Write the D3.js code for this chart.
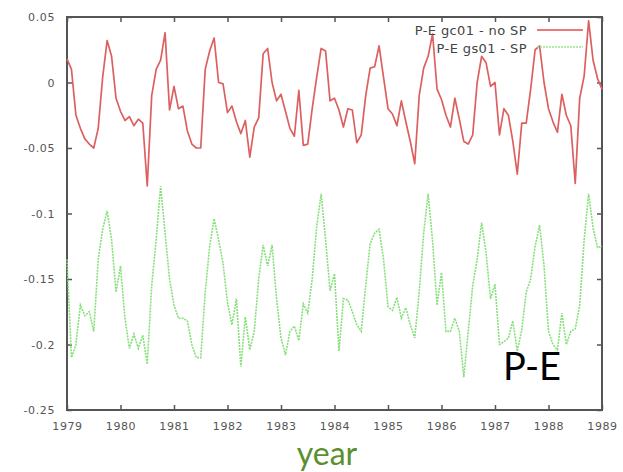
<!DOCTYPE html>
<html>
<head>
<meta charset="utf-8"/>
<script src="https://cdn.jsdelivr.net/npm/d3@7"></script>
<title>P-E</title>
<style>
body { margin: 0; background: #fff; }
svg { display: block; }
</style>
</head>
<body>
<script>
// monthly values, Jan 1979 .. Jan 1989
var startYear = 1979;
var noSP = [0.018,0.01,-0.025,-0.035,-0.043,-0.047,-0.05,-0.035,0.004,0.032,
  0.02,-0.012,-0.022,-0.029,-0.026,-0.033,-0.028,-0.031,-0.079,-0.01,
  0.01,0.017,0.038,-0.021,-0.003,-0.02,-0.018,-0.037,-0.047,-0.05,
  -0.05,0.01,0.024,0.034,0,-0.001,-0.023,-0.018,-0.03,-0.039,
  -0.029,-0.057,-0.034,-0.027,0.022,0.026,0,-0.014,-0.009,-0.022,
  -0.035,-0.041,-0.006,-0.048,-0.047,-0.02,0.004,0.026,0.024,-0.014,
  -0.012,-0.021,-0.034,-0.02,-0.021,-0.046,-0.04,-0.01,0.011,0.012,
  0.028,0.004,-0.02,-0.024,-0.033,-0.014,-0.03,-0.045,-0.062,-0.01,
  0.011,0.02,0.037,-0.005,-0.013,-0.025,-0.034,-0.012,-0.028,-0.045,
  -0.047,-0.04,0,0.02,0.015,-0.003,0,-0.04,-0.02,-0.025,
  -0.045,-0.07,-0.031,-0.031,-0.005,0.025,0.028,0,-0.02,-0.03,
  -0.038,-0.009,-0.025,-0.033,-0.077,-0.012,0.005,0.047,0.017,0.003,
  -0.005];
var withSP = [-0.135,-0.21,-0.2,-0.17,-0.178,-0.175,-0.19,-0.135,-0.112,-0.098,
  -0.12,-0.16,-0.14,-0.18,-0.203,-0.192,-0.203,-0.193,-0.215,-0.155,
  -0.12,-0.079,-0.115,-0.15,-0.17,-0.18,-0.18,-0.182,-0.2,-0.21,
  -0.21,-0.16,-0.125,-0.104,-0.12,-0.138,-0.168,-0.185,-0.165,-0.217,
  -0.179,-0.204,-0.19,-0.15,-0.124,-0.14,-0.124,-0.165,-0.195,-0.208,
  -0.19,-0.186,-0.197,-0.169,-0.176,-0.15,-0.11,-0.085,-0.12,-0.159,
  -0.146,-0.205,-0.165,-0.166,-0.175,-0.185,-0.19,-0.155,-0.123,-0.115,
  -0.112,-0.135,-0.171,-0.174,-0.164,-0.18,-0.172,-0.185,-0.195,-0.16,
  -0.115,-0.085,-0.121,-0.17,-0.145,-0.19,-0.19,-0.18,-0.19,-0.225,
  -0.19,-0.155,-0.135,-0.107,-0.13,-0.165,-0.154,-0.2,-0.198,-0.195,
  -0.182,-0.205,-0.189,-0.16,-0.15,-0.125,-0.109,-0.14,-0.19,-0.2,
  -0.204,-0.176,-0.2,-0.19,-0.188,-0.17,-0.12,-0.085,-0.111,-0.126,
  -0.125];
var yearTicks = [1979,1980,1981,1982,1983,1984,1985,1986,1987,1988,1989];
var valueTicks = [0.05,0,-0.05,-0.1,-0.15,-0.2,-0.25];
var seriesNames = ["P-E gc01 - no SP", "P-E gs01 - SP"];

var W = 623, H = 472;
var plotL = 67, plotR = 602, plotT = 17, plotB = 410;

var svg = d3.select("body").append("svg")
  .attr("width", W).attr("height", H);

var x = d3.scaleLinear().domain([1979, 1989]).range([plotL, plotR]);
var y = d3.scaleLinear().domain([-0.25, 0.05]).range([plotB, plotT]);

var tickFont = "'DejaVu Sans', Verdana, sans-serif";

// axes: ticks inward on all four sides (gnuplot style)
var xb = svg.append("g").attr("transform", "translate(0," + plotB + ")")
  .call(d3.axisBottom(x).tickValues(yearTicks).tickFormat(d3.format("d")).tickSizeInner(-5).tickSizeOuter(0).tickPadding(12));
var xt = svg.append("g").attr("transform", "translate(0," + plotT + ")")
  .call(d3.axisTop(x).tickValues(yearTicks).tickFormat("").tickSizeInner(-5).tickSizeOuter(0));
var yl = svg.append("g").attr("transform", "translate(" + plotL + ",0)")
  .call(d3.axisLeft(y).tickValues(valueTicks).tickFormat(function(d){ return String(+d.toFixed(2)); })
    .tickSizeInner(-5).tickSizeOuter(0).tickPadding(12));
var yr = svg.append("g").attr("transform", "translate(" + plotR + ",0)")
  .call(d3.axisRight(y).tickValues(valueTicks).tickFormat("").tickSizeInner(-5).tickSizeOuter(0));

[xb, xt, yl, yr].forEach(function(g){
  g.select(".domain").remove();
  g.selectAll(".tick line").attr("stroke", "#555").attr("stroke-width", 1.5);
  g.selectAll(".tick text").attr("fill", "#555").style("font-family", tickFont)
    .style("font-size", "11px").style("letter-spacing", "0.6px");
});

svg.append("rect")
  .attr("x", plotL).attr("y", plotT).attr("width", plotR - plotL).attr("height", plotB - plotT)
  .attr("fill", "none").attr("stroke", "#555").attr("stroke-width", 2);

var line = d3.line()
  .x(function(d, i){ return x(startYear + i / 12); })
  .y(function(d){ return y(d); });

svg.append("path").datum(noSP)
  .attr("d", line).attr("fill", "none")
  .attr("stroke", "#dd6060").attr("stroke-width", 1.7).attr("stroke-linejoin", "round");

svg.append("path").datum(withSP)
  .attr("d", line).attr("fill", "none")
  .attr("stroke", "#86e07a").attr("stroke-width", 1.6).attr("stroke-dasharray", "2,1");

// legend
var legend = svg.append("g").style("font-family", tickFont).style("font-size", "13px")
  .style("letter-spacing", "0.4px");
legend.append("text").attr("x", 527).attr("y", 35).attr("text-anchor", "end")
  .attr("fill", "#444").text(seriesNames[0]);
legend.append("text").attr("x", 527).attr("y", 53).attr("text-anchor", "end")
  .attr("fill", "#444").text(seriesNames[1]);
legend.append("line").attr("x1", 537).attr("x2", 583).attr("y1", 30).attr("y2", 30)
  .attr("stroke", "#e87a7a").attr("stroke-width", 1.8);
legend.append("line").attr("x1", 537).attr("x2", 583).attr("y1", 47).attr("y2", 47)
  .attr("stroke", "#9be48f").attr("stroke-width", 1.6).attr("stroke-dasharray", "2,1");

// added annotations
svg.append("text").attr("x", 532).attr("y", 380).attr("text-anchor", "middle")
  .style("font-family", "Lato, 'Open Sans', sans-serif").style("font-size", "38px").attr("fill", "#000").text("P-E");
svg.append("text").attr("x", 327).attr("y", 465).attr("text-anchor", "middle")
  .style("font-family", "Lato, 'Open Sans', sans-serif").style("font-size", "32px").attr("fill", "#5b8f2e").text("year");
</script>
</body>
</html>
